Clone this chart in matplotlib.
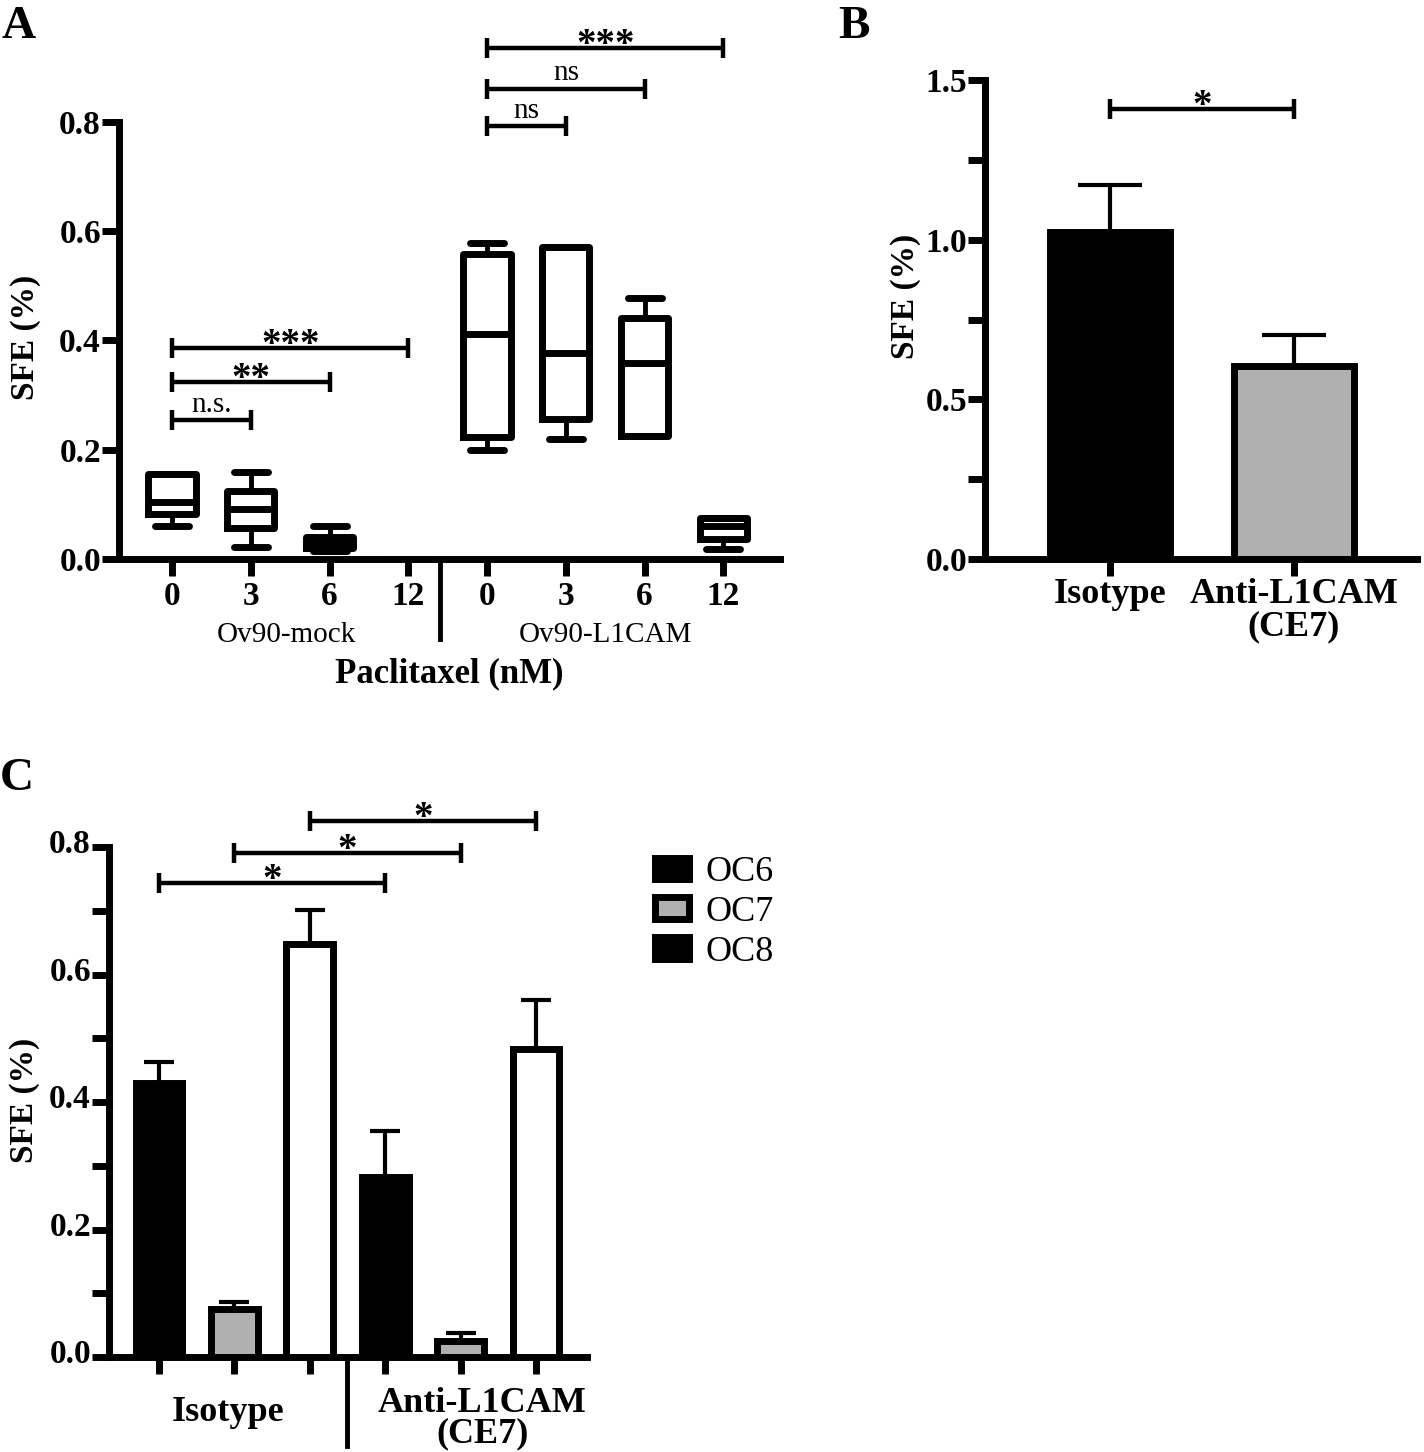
import matplotlib
matplotlib.use("Agg")
import matplotlib.pyplot as plt
from matplotlib.patches import Patch
from matplotlib.transforms import ScaledTranslation, blended_transform_factory

plt.rcParams['font.family'] = ['Liberation Serif', 'DejaVu Serif']

GREY = '#b0b0b0'
LW = 5  # thick GraphPad style lines

# ---------------- data ----------------
# Panel A: box stats (min, q1, median, q3, max) per dose
doses = ['0', '3', '6', '12', '0', '3', '6', '12']
cell_lines = ['Ov90-mock', 'Ov90-L1CAM']
a_min = [0.060, 0.022, 0.015, 0.0, 0.200, 0.220, 0.225, 0.018]
a_q1 = [0.082, 0.056, 0.021, 0.0, 0.224, 0.256, 0.225, 0.037]
a_med = [0.104, 0.091, 0.030, 0.0, 0.411, 0.378, 0.358, 0.061]
a_q3 = [0.155, 0.124, 0.041, 0.0, 0.558, 0.571, 0.442, 0.075]
a_max = [0.155, 0.160, 0.060, 0.0, 0.578, 0.571, 0.478, 0.075]
# (start, end, height, label)
a_sig = [(0, 1, 0.254, 'n.s.'), (0, 2, 0.324, '**'), (0, 3, 0.386, '***'),
         (4, 5, 0.792, 'ns'), (4, 6, 0.861, 'ns'), (4, 7, 0.935, '***')]

# Panel B
b_groups = ['Isotype', 'Anti-L1CAM\n(CE7)']
b_mean = [1.025, 0.605]
b_err = [0.147, 0.095]
b_sig = [(0, 1, 1.41, '*')]

# Panel C
c_treat = ['Isotype', 'Anti-L1CAM\n(CE7)']
c_lines = ['OC6', 'OC7', 'OC8']
c_mean = [0.430, 0.075, 0.648, 0.283, 0.025, 0.483]
c_err = [0.033, 0.012, 0.054, 0.071, 0.012, 0.077]
c_sig = [(0, 3, 0.744, '*'), (1, 4, 0.791, '*'), (2, 5, 0.841, '*')]


def style_axes(ax):
    for s in ['top', 'right']:
        ax.spines[s].set_visible(False)
    for s in ['left', 'bottom']:
        ax.spines[s].set_linewidth(LW)
    ax.tick_params(which='both', length=12, width=LW, direction='out')
    ax.tick_params(axis='y', labelsize=24, pad=1)
    for lab in ax.get_yticklabels() + ax.get_xticklabels():
        lab.set_fontweight('bold')


def brackets(ax, sig):
    for x0, x1, y, txt in sig:
        ax.plot([x0, x1], [y, y], color='black', lw=3.2, marker='|',
                markersize=14, mew=3.2, clip_on=False, solid_capstyle='butt')
        if '*' in txt:
            ax.annotate(txt, ((x0 + x1) / 2, y), xytext=(0, -5), textcoords='offset points',
                        ha='center', va='baseline', fontsize=28, fontweight='bold',
                        annotation_clip=False)
        else:
            ax.annotate(txt, ((x0 + x1) / 2, y), xytext=(0, 6), textcoords='offset points',
                        ha='center', va='baseline', fontsize=21, annotation_clip=False)


fig = plt.figure(figsize=(14.24, 14.52), dpi=100)

# ---------------- A ----------------
axA = fig.add_axes([0.0836, 0.615, 0.4642, 0.301])
pos = list(range(len(doses)))
stats = [dict(whislo=a_min[i], q1=a_q1[i], med=a_med[i], q3=a_q3[i], whishi=a_max[i], fliers=[])
         for i in pos]
axA.bxp(stats, positions=pos, widths=0.6, capwidths=0.43, showfliers=False,
        boxprops=dict(lw=LW, color='black'),
        whiskerprops=dict(lw=3.5, color='black'),
        capprops=dict(lw=LW, color='black', solid_capstyle='round'),
        medianprops=dict(lw=LW, color='black'))
axA.set_xlim(-0.674, 7.72)
axA.set_ylim(0, 0.8)
axA.set_yticks([0, 0.2, 0.4, 0.6, 0.8])
axA.set_xticks(pos)
axA.set_xticklabels(doses)
style_axes(axA)
axA.tick_params(axis='x', labelsize=24, pad=4)
for lab in axA.get_xticklabels():
    lab.set_fontweight('bold')
trA = blended_transform_factory(axA.transData, axA.transAxes)
axA.plot([3.4, 3.4], [0, -0.183], transform=trA, color='black', lw=3.5, clip_on=False)
axA.text(1.45, -0.19, cell_lines[0], transform=trA, ha='center', va='baseline', fontsize=21)
axA.text(5.5, -0.19, cell_lines[1], transform=trA, ha='center', va='baseline', fontsize=21)
axA.text(0.5, -0.2815, 'Paclitaxel (nM)', transform=axA.transAxes, ha='center', va='baseline',
         fontsize=25, fontweight='bold')
axA.text(-0.142, 0.506, 'SFE (%)', transform=axA.transAxes, rotation=90, ha='center',
         va='center', fontsize=24, fontweight='bold')
brackets(axA, a_sig)

# ---------------- B ----------------
axB = fig.add_axes([0.6917, 0.615, 0.3034, 0.3299])
bx = list(range(len(b_groups)))
axB.errorbar(bx, b_mean, yerr=[[0] * len(bx), b_err], fmt='none', ecolor='black',
             elinewidth=3, capsize=23, capthick=3, zorder=1)
axB.bar(bx, b_mean, width=0.65, color=['black', GREY], edgecolor='black', lw=LW, zorder=2)
axB.set_xlim(-0.679, 1.668)
axB.set_ylim(0, 1.5)
axB.set_yticks([0, 0.5, 1.0, 1.5])
axB.set_yticklabels(['0.0', '0.5', '1.0', '1.5'])
axB.set_yticks([0.25, 0.75, 1.25], minor=True)
axB.set_xticks(bx)
axB.set_xticklabels(b_groups, fontsize=26, fontweight='bold', linespacing=0.95)
style_axes(axB)
axB.tick_params(axis='x', pad=2)
axB.text(-0.183, 0.549, 'SFE (%)', transform=axB.transAxes, rotation=90, ha='center',
         va='center', fontsize=24, fontweight='bold')
brackets(axB, b_sig)

# ---------------- C ----------------
axC = fig.add_axes([0.0765, 0.0654, 0.3357, 0.3512])
cx = list(range(len(c_mean)))
c_colors = ['black', GREY, 'white'] * 2
axC.errorbar(cx, c_mean, yerr=[[0] * len(cx), c_err], fmt='none', ecolor='black',
             elinewidth=3, capsize=10.5, capthick=3, zorder=1)
axC.bar(cx, c_mean, width=0.62, color=c_colors, edgecolor='black', lw=LW, zorder=2)
axC.set_xlim(-0.663, 5.676)
axC.set_ylim(0, 0.8)
axC.set_yticks([0, 0.2, 0.4, 0.6, 0.8])
axC.set_yticks([0.1, 0.3, 0.5, 0.7], minor=True)
axC.set_xticks(cx)
axC.set_xticklabels([])
style_axes(axC)
for lab in axC.get_yticklabels():
    lab.set_transform(lab.get_transform() + ScaledTranslation(0, 0.06, fig.dpi_scale_trans))
trC = blended_transform_factory(axC.transData, axC.transAxes)
axC.plot([2.5, 2.5], [0, -0.175], transform=trC, color='black', lw=3.5, clip_on=False)
axC.text(0.92, -0.1255, c_treat[0], transform=trC, ha='center', va='baseline',
         fontsize=26, fontweight='bold')
axC.text(4.29, -0.183, c_treat[1], transform=trC, ha='center', va='bottom',
         fontsize=26, fontweight='bold', linespacing=0.88, multialignment='center')
axC.text(-0.176, 0.504, 'SFE (%)', transform=axC.transAxes, rotation=90, ha='center',
         va='center', fontsize=24, fontweight='bold')
brackets(axC, c_sig)
handles = [Patch(facecolor='black', edgecolor='black', lw=LW),
           Patch(facecolor=GREY, edgecolor='black', lw=LW),
           Patch(facecolor='black', edgecolor='black', lw=LW)]
axC.legend(handles, c_lines, loc='upper left', bbox_to_anchor=(1.143, 0.982), frameon=False,
           fontsize=26, handlelength=0.94, handleheight=0.55, handletextpad=0.45,
           labelspacing=0.19, borderaxespad=0, borderpad=0)

# panel letters
fig.text(0.001, 1 - 38 / 1452, 'A', fontsize=34, fontweight='bold', va='baseline')
fig.text(0.5885, 1 - 38 / 1452, 'B', fontsize=34, fontweight='bold', va='baseline')
fig.text(0.0, 1 - 790 / 1452, 'C', fontsize=34, fontweight='bold', va='baseline')

fig.savefig('out.png', dpi=100)
